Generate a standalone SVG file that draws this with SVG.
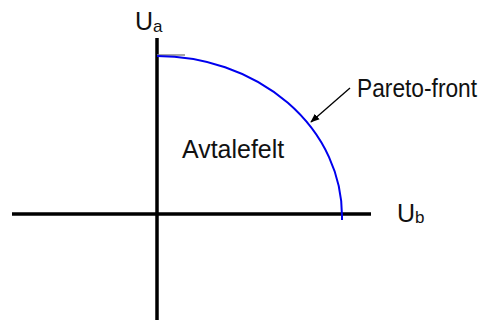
<svg xmlns="http://www.w3.org/2000/svg" width="487" height="320" viewBox="0 0 487 320">
<style>
.ax{stroke:#000;stroke-width:3.5;fill:none}
.t{font-family:"Liberation Sans",Arial,sans-serif;fill:#111}
</style>
<defs>
<marker id="ah" viewBox="0 0 10 10" refX="9" refY="5" markerWidth="7" markerHeight="7" orient="auto"><path d="M0,1 L10,5 L0,9 z" fill="#000"/></marker>
</defs>
<rect width="487" height="320" fill="#fff"/>
<g id="axes">
<line class="ax" x1="12" y1="214" x2="371" y2="214"/>
<line class="ax" x1="157" y1="38" x2="157" y2="320"/>
</g>
<g id="front">
<line x1="157" y1="55" x2="185" y2="55" stroke="#888" stroke-width="1.5"/>
<path d="M157,56 A185,160 0 0 1 342,216 L342,220" fill="none" stroke="#0000ee" stroke-width="2"/>
</g>
<g id="connectors">
<line x1="350" y1="88" x2="311" y2="122" stroke="#000" stroke-width="1.3" marker-end="url(#ah)"/>
</g>
<g id="labels">
<text class="t" x="135" y="30" font-size="25">U<tspan font-size="17" dy="2">a</tspan></text>
<text class="t" x="397" y="222" font-size="25">U<tspan font-size="17" dy="1">b</tspan></text>
<text class="t" transform="translate(357,97) scale(0.91,1)" x="0" y="0" font-size="25">Pareto-front</text>
<text class="t" transform="translate(182,158) scale(0.96,1)" x="0" y="0" font-size="26">Avtalefelt</text>
</g>
</svg>
